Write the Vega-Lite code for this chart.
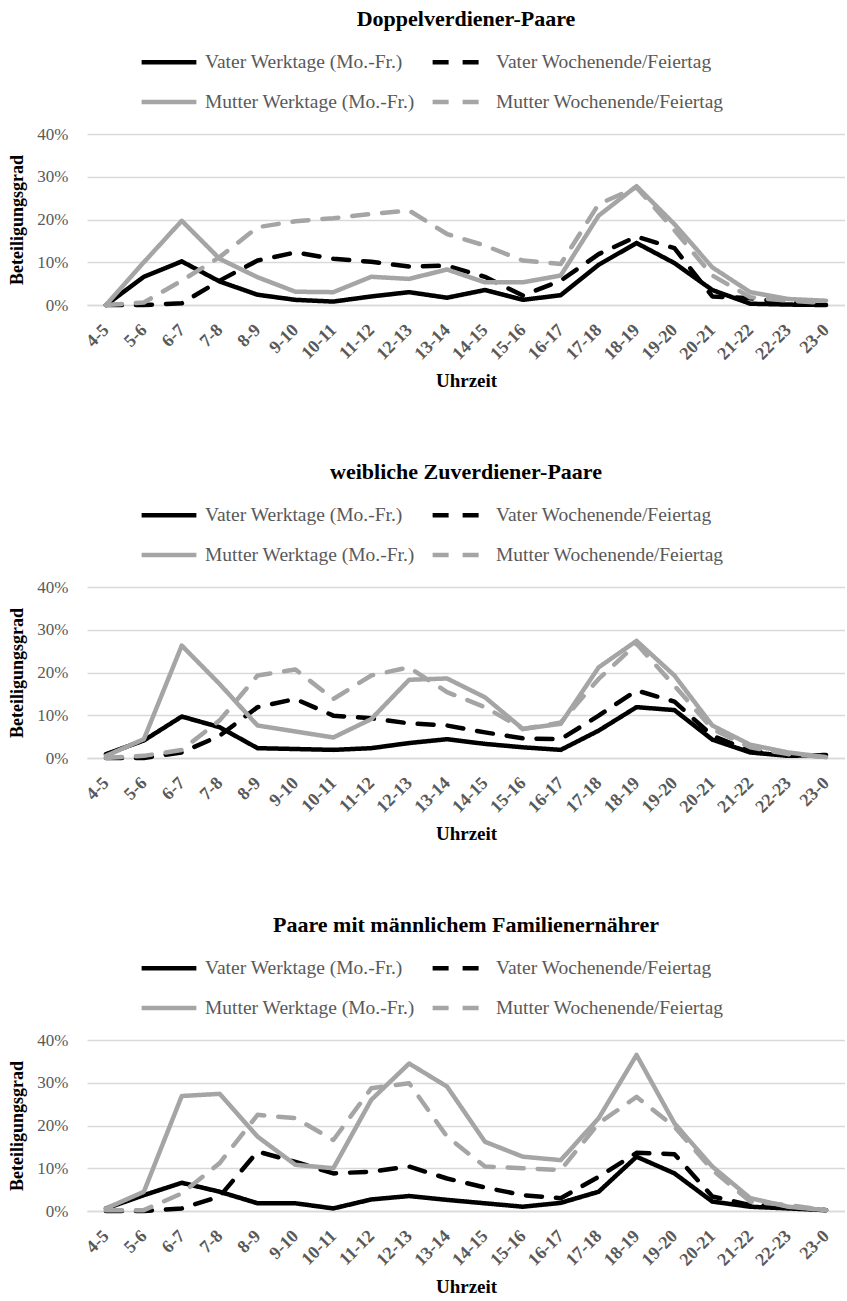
{
  "$schema": "https://vega.github.io/schema/vega-lite/v6.json",
  "padding": {"left": 8, "top": 8, "right": 0, "bottom": 0},
  "data": {"values": [
    {"p":"A","t":"4-5","VW":0,"VE":0,"MW":0,"ME":0},
    {"p":"A","t":"5-6","VW":6.6,"VE":0,"MW":10,"ME":0.6},
    {"p":"A","t":"6-7","VW":10.2,"VE":0.4,"MW":19.7,"ME":5.7},
    {"p":"A","t":"7-8","VW":5.5,"VE":5.7,"MW":10.8,"ME":11.2},
    {"p":"A","t":"8-9","VW":2.4,"VE":10.4,"MW":6.5,"ME":18.2},
    {"p":"A","t":"9-10","VW":1.2,"VE":12.3,"MW":3.1,"ME":19.6},
    {"p":"A","t":"10-11","VW":0.8,"VE":10.8,"MW":3.0,"ME":20.3},
    {"p":"A","t":"11-12","VW":2.0,"VE":10.1,"MW":6.6,"ME":21.3},
    {"p":"A","t":"12-13","VW":3.0,"VE":9.0,"MW":6.1,"ME":22.1},
    {"p":"A","t":"13-14","VW":1.7,"VE":9.2,"MW":8.3,"ME":16.6},
    {"p":"A","t":"14-15","VW":3.5,"VE":6.6,"MW":5.3,"ME":13.9},
    {"p":"A","t":"15-16","VW":1.2,"VE":2.2,"MW":5.3,"ME":10.4},
    {"p":"A","t":"16-17","VW":2.3,"VE":5.7,"MW":6.9,"ME":9.6},
    {"p":"A","t":"17-18","VW":9.4,"VE":11.9,"MW":20.9,"ME":23.6},
    {"p":"A","t":"18-19","VW":14.5,"VE":16.0,"MW":27.8,"ME":27.5},
    {"p":"A","t":"19-20","VW":9.8,"VE":13.3,"MW":18.9,"ME":17.5},
    {"p":"A","t":"20-21","VW":3.5,"VE":2.0,"MW":8.8,"ME":6.9},
    {"p":"A","t":"21-22","VW":0.3,"VE":1.6,"MW":3.0,"ME":1.8},
    {"p":"A","t":"22-23","VW":0.1,"VE":0.6,"MW":1.4,"ME":1.0},
    {"p":"A","t":"23-0","VW":0,"VE":0.2,"MW":1.0,"ME":0.5},
    {"p":"B","t":"4-5","VW":0.9,"VE":0,"MW":0.5,"ME":0},
    {"p":"B","t":"5-6","VW":4.1,"VE":0,"MW":4.4,"ME":0.5},
    {"p":"B","t":"6-7","VW":9.7,"VE":1.3,"MW":26.3,"ME":1.9},
    {"p":"B","t":"7-8","VW":7.2,"VE":5.2,"MW":17.3,"ME":8.8},
    {"p":"B","t":"8-9","VW":2.3,"VE":11.9,"MW":7.6,"ME":19.3},
    {"p":"B","t":"9-10","VW":2.1,"VE":13.8,"MW":6.2,"ME":20.7},
    {"p":"B","t":"10-11","VW":1.9,"VE":9.9,"MW":4.8,"ME":13.8},
    {"p":"B","t":"11-12","VW":2.3,"VE":9.3,"MW":9.1,"ME":19.3},
    {"p":"B","t":"12-13","VW":3.5,"VE":8.1,"MW":18.3,"ME":21.2},
    {"p":"B","t":"13-14","VW":4.4,"VE":7.6,"MW":18.6,"ME":15.4},
    {"p":"B","t":"14-15","VW":3.3,"VE":6.0,"MW":14.2,"ME":11.9},
    {"p":"B","t":"15-16","VW":2.5,"VE":4.6,"MW":6.8,"ME":6.8},
    {"p":"B","t":"16-17","VW":1.9,"VE":4.4,"MW":8.0,"ME":8.3},
    {"p":"B","t":"17-18","VW":6.4,"VE":9.9,"MW":21.2,"ME":18.5},
    {"p":"B","t":"18-19","VW":11.9,"VE":15.8,"MW":27.4,"ME":26.7},
    {"p":"B","t":"19-20","VW":11.2,"VE":13.2,"MW":19.3,"ME":16.9},
    {"p":"B","t":"20-21","VW":4.3,"VE":5.2,"MW":7.6,"ME":6.8},
    {"p":"B","t":"21-22","VW":1.3,"VE":1.7,"MW":3.1,"ME":2.5},
    {"p":"B","t":"22-23","VW":0.5,"VE":0.7,"MW":1.3,"ME":0.9},
    {"p":"B","t":"23-0","VW":0.7,"VE":0.4,"MW":0.2,"ME":0.2},
    {"p":"C","t":"4-5","VW":0.6,"VE":0,"MW":0.6,"ME":0.2},
    {"p":"C","t":"5-6","VW":3.7,"VE":0,"MW":4.5,"ME":0.2},
    {"p":"C","t":"6-7","VW":6.6,"VE":0.6,"MW":26.9,"ME":4.1},
    {"p":"C","t":"7-8","VW":4.5,"VE":3.4,"MW":27.4,"ME":11.2},
    {"p":"C","t":"8-9","VW":1.8,"VE":13.9,"MW":17.4,"ME":22.5},
    {"p":"C","t":"9-10","VW":1.8,"VE":11.5,"MW":10.8,"ME":21.7},
    {"p":"C","t":"10-11","VW":0.6,"VE":8.8,"MW":10.0,"ME":16.6},
    {"p":"C","t":"11-12","VW":2.7,"VE":9.2,"MW":26.0,"ME":28.7},
    {"p":"C","t":"12-13","VW":3.5,"VE":10.4,"MW":34.5,"ME":29.9},
    {"p":"C","t":"13-14","VW":2.6,"VE":7.6,"MW":29.1,"ME":17.4},
    {"p":"C","t":"14-15","VW":1.8,"VE":5.5,"MW":16.2,"ME":10.4},
    {"p":"C","t":"15-16","VW":1.0,"VE":3.7,"MW":12.7,"ME":10.0},
    {"p":"C","t":"16-17","VW":1.9,"VE":3.0,"MW":11.9,"ME":9.6},
    {"p":"C","t":"17-18","VW":4.5,"VE":8.0,"MW":21.7,"ME":20.5},
    {"p":"C","t":"18-19","VW":12.7,"VE":13.6,"MW":36.5,"ME":26.7},
    {"p":"C","t":"19-20","VW":8.8,"VE":13.3,"MW":20.5,"ME":19.7},
    {"p":"C","t":"20-21","VW":2.2,"VE":3.4,"MW":10.4,"ME":9.6},
    {"p":"C","t":"21-22","VW":1.0,"VE":1.4,"MW":3.0,"ME":2.2},
    {"p":"C","t":"22-23","VW":0.6,"VE":1.0,"MW":1.0,"ME":1.4},
    {"p":"C","t":"23-0","VW":0.2,"VE":0.2,"MW":0.2,"ME":0.2}
  ]},
  "spacing": 70,
  "vconcat": [
    {
      "title": {"text": "Doppelverdiener-Paare"},
      "width": 758, "height": 171,
      "transform": [{"filter": "datum.p == 'A'"}, {"fold": ["VW","VE","MW","ME"], "as": ["s","v"]}],
      "mark": {"type": "line", "strokeWidth": 4.5, "strokeCap": "round", "strokeJoin": "round"},
      "encoding": {
        "x": {"field": "t", "type": "nominal", "sort": ["4-5","5-6","6-7","7-8","8-9","9-10","10-11","11-12","12-13","13-14","14-15","15-16","16-17","17-18","18-19","19-20","20-21","21-22","22-23","23-0"], "axis": {"title": "Uhrzeit"}},
        "y": {"field": "v", "type": "quantitative", "scale": {"domain": [0, 40]}, "axis": {"title": "Beteiligungsgrad", "values": [0,10,20,30,40], "labelExpr": "datum.value + '%'"}},
        "color": {"field": "s", "type": "nominal", "scale": {"domain": ["VW","VE","MW","ME"], "range": ["#000000","#000000","#A5A5A5","#A5A5A5"]}, "legend": {"title": null, "labelExpr": "datum.label == 'VW' ? 'Vater Werktage (Mo.-Fr.)' : datum.label == 'VE' ? 'Vater Wochenende/Feiertag' : datum.label == 'MW' ? 'Mutter Werktage (Mo.-Fr.)' : 'Mutter Wochenende/Feiertag'"}},
        "strokeDash": {"field": "s", "type": "nominal", "scale": {"domain": ["VW","VE","MW","ME"], "range": [[1,0],[16,14],[1,0],[16,14]]}, "legend": {"title": null, "labelExpr": "datum.label == 'VW' ? 'Vater Werktage (Mo.-Fr.)' : datum.label == 'VE' ? 'Vater Wochenende/Feiertag' : datum.label == 'MW' ? 'Mutter Werktage (Mo.-Fr.)' : 'Mutter Wochenende/Feiertag'"}}
      }
    },
    {
      "title": {"text": "weibliche Zuverdiener-Paare"},
      "width": 758, "height": 171,
      "transform": [{"filter": "datum.p == 'B'"}, {"fold": ["VW","VE","MW","ME"], "as": ["s","v"]}],
      "mark": {"type": "line", "strokeWidth": 4.5, "strokeCap": "round", "strokeJoin": "round"},
      "encoding": {
        "x": {"field": "t", "type": "nominal", "sort": ["4-5","5-6","6-7","7-8","8-9","9-10","10-11","11-12","12-13","13-14","14-15","15-16","16-17","17-18","18-19","19-20","20-21","21-22","22-23","23-0"], "axis": {"title": "Uhrzeit"}},
        "y": {"field": "v", "type": "quantitative", "scale": {"domain": [0, 40]}, "axis": {"title": "Beteiligungsgrad", "values": [0,10,20,30,40], "labelExpr": "datum.value + '%'"}},
        "color": {"field": "s", "type": "nominal", "scale": {"domain": ["VW","VE","MW","ME"], "range": ["#000000","#000000","#A5A5A5","#A5A5A5"]}, "legend": {"title": null, "labelExpr": "datum.label == 'VW' ? 'Vater Werktage (Mo.-Fr.)' : datum.label == 'VE' ? 'Vater Wochenende/Feiertag' : datum.label == 'MW' ? 'Mutter Werktage (Mo.-Fr.)' : 'Mutter Wochenende/Feiertag'"}},
        "strokeDash": {"field": "s", "type": "nominal", "scale": {"domain": ["VW","VE","MW","ME"], "range": [[1,0],[16,14],[1,0],[16,14]]}, "legend": {"title": null, "labelExpr": "datum.label == 'VW' ? 'Vater Werktage (Mo.-Fr.)' : datum.label == 'VE' ? 'Vater Wochenende/Feiertag' : datum.label == 'MW' ? 'Mutter Werktage (Mo.-Fr.)' : 'Mutter Wochenende/Feiertag'"}}
      }
    },
    {
      "title": {"text": "Paare mit männlichem Familienernährer"},
      "width": 758, "height": 171,
      "transform": [{"filter": "datum.p == 'C'"}, {"fold": ["VW","VE","MW","ME"], "as": ["s","v"]}],
      "mark": {"type": "line", "strokeWidth": 4.5, "strokeCap": "round", "strokeJoin": "round"},
      "encoding": {
        "x": {"field": "t", "type": "nominal", "sort": ["4-5","5-6","6-7","7-8","8-9","9-10","10-11","11-12","12-13","13-14","14-15","15-16","16-17","17-18","18-19","19-20","20-21","21-22","22-23","23-0"], "axis": {"title": "Uhrzeit"}},
        "y": {"field": "v", "type": "quantitative", "scale": {"domain": [0, 40]}, "axis": {"title": "Beteiligungsgrad", "values": [0,10,20,30,40], "labelExpr": "datum.value + '%'"}},
        "color": {"field": "s", "type": "nominal", "scale": {"domain": ["VW","VE","MW","ME"], "range": ["#000000","#000000","#A5A5A5","#A5A5A5"]}, "legend": {"title": null, "labelExpr": "datum.label == 'VW' ? 'Vater Werktage (Mo.-Fr.)' : datum.label == 'VE' ? 'Vater Wochenende/Feiertag' : datum.label == 'MW' ? 'Mutter Werktage (Mo.-Fr.)' : 'Mutter Wochenende/Feiertag'"}},
        "strokeDash": {"field": "s", "type": "nominal", "scale": {"domain": ["VW","VE","MW","ME"], "range": [[1,0],[16,14],[1,0],[16,14]]}, "legend": {"title": null, "labelExpr": "datum.label == 'VW' ? 'Vater Werktage (Mo.-Fr.)' : datum.label == 'VE' ? 'Vater Wochenende/Feiertag' : datum.label == 'MW' ? 'Mutter Werktage (Mo.-Fr.)' : 'Mutter Wochenende/Feiertag'"}}
      }
    }
  ],
  "resolve": {"legend": {"color": "independent", "strokeDash": "independent"}, "scale": {"color": "independent", "strokeDash": "independent"}},
  "config": {
    "font": "Liberation Serif",
    "view": {"stroke": null},
    "title": {"fontSize": 22, "fontWeight": "bold", "color": "#000000", "anchor": "middle", "offset": 1},
    "axisX": {"labelAngle": -45, "labelAlign": "right", "labelBaseline": "middle", "labelFontSize": 18, "labelFontWeight": "bold", "labelColor": "#595959", "labelPadding": 22, "ticks": false, "grid": false, "domainColor": "#D9D9D9", "domainWidth": 1.5, "titleFontSize": 19, "titleFontWeight": "bold", "titleColor": "#000000", "titlePadding": 8},
    "axisY": {"labelFontSize": 17, "labelColor": "#595959", "labelPadding": 19, "ticks": false, "domain": false, "gridColor": "#D9D9D9", "gridWidth": 1.5, "titleFontSize": 18, "titleFontWeight": "bold", "titleColor": "#000000", "titlePadding": 10},
    "legend": {"orient": "none", "legendX": 52, "legendY": -102, "direction": "horizontal", "columns": 2, "symbolType": "stroke", "symbolSize": 3000, "symbolStrokeWidth": 4.5, "labelFontSize": 19.5, "labelColor": "#595959", "labelOffset": 6, "columnPadding": 8, "rowPadding": 0, "labelLimit": 400, "padding": 0}
  }
}
